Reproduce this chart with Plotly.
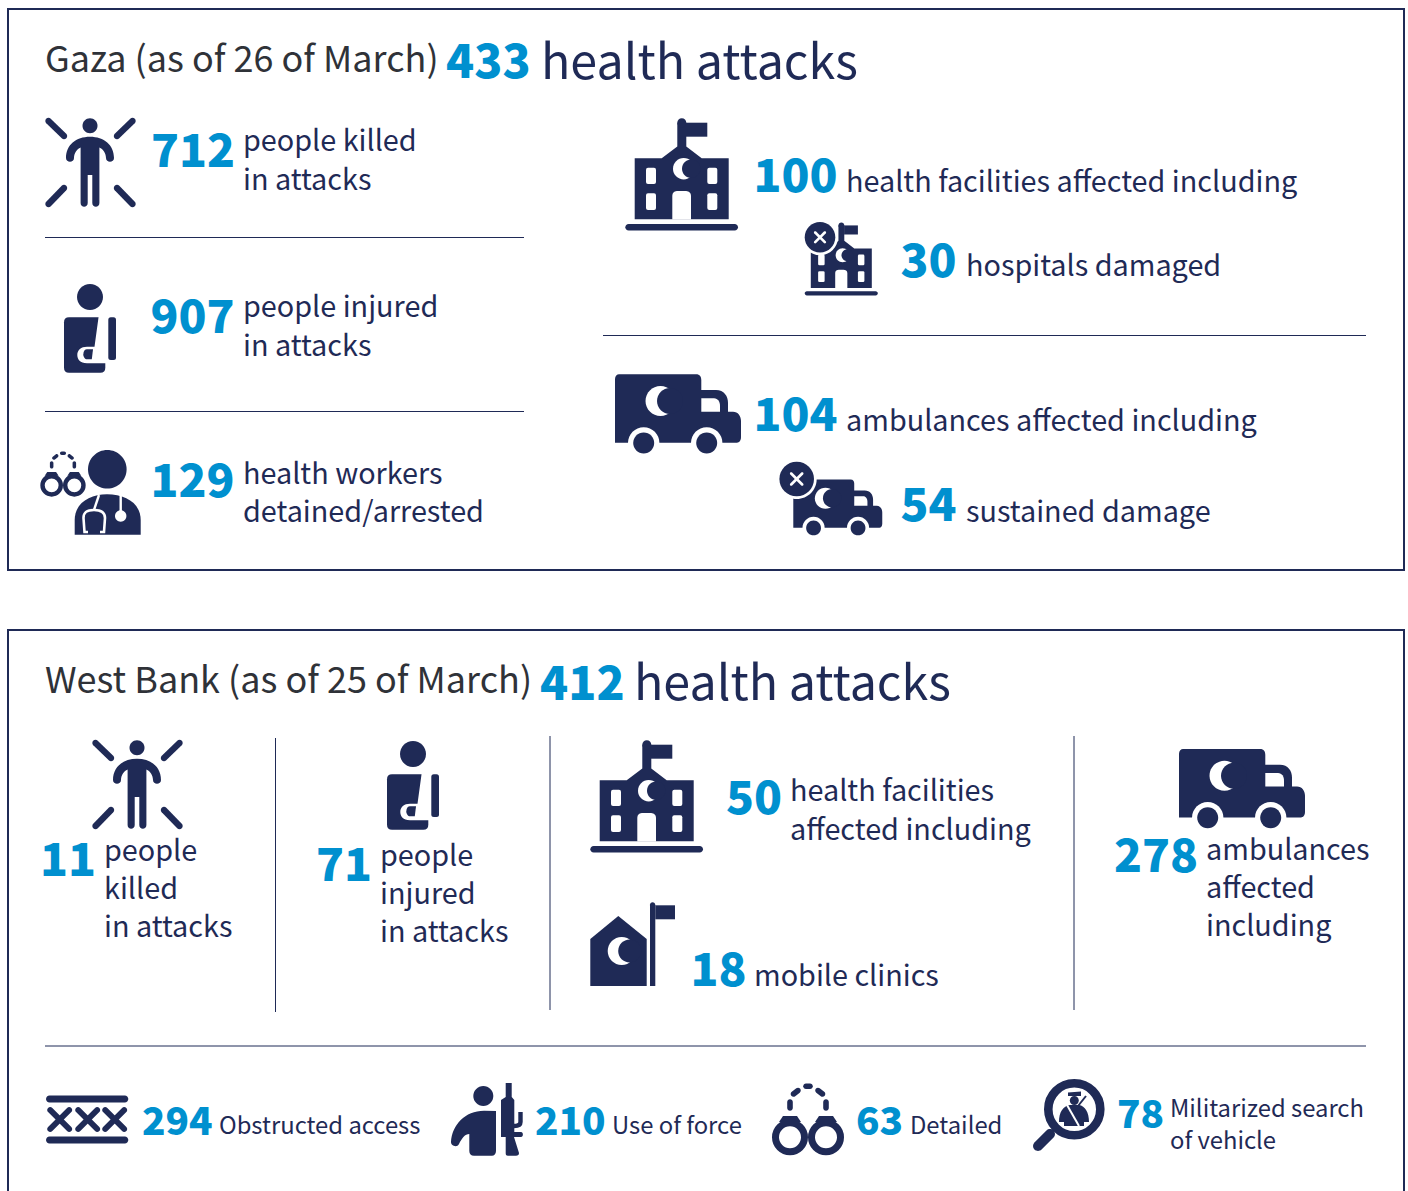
import re
import math
import plotly.graph_objects as go

# ---------- chart content ----------
gaza_title = "Gaza (as of 26 of March)"
gaza_total = "433"
bank_title = "West Bank (as of 25 of March)"
bank_total = "412"
total_suffix = "health attacks"

gaza_numbers = ["712", "907", "129", "100", "30", "104", "54"]
gaza_labels = [["people killed", "in attacks"], ["people injured", "in attacks"],
               ["health workers", "detained/arrested"],
               ["health facilities affected including"], ["hospitals damaged"],
               ["ambulances affected including"], ["sustained damage"]]
bank_numbers = ["11", "71", "50", "18", "278"]
bank_labels = [["people", "killed", "in attacks"], ["people", "injured", "in attacks"],
               ["health facilities", "affected including"], ["mobile clinics"],
               ["ambulances", "affected", "including"]]
bank_small_numbers = ["294", "210", "63", "78"]
bank_small_labels = [["Obstructed access"], ["Use of force"], ["Detailed"],
                     ["Militarized search", "of vehicle"]]

# ---------- layout of the texts (pixels) ----------
gaza_num_pos = [(151, 155.5), (150.5, 321.5), (150.5, 485.5), (753.5, 180.5), (900.5, 265.5), (753.5, 419.5), (900.5, 509.5)]
gaza_lab_pos = [(242.5, [138, 177]), (242.5, [304, 343]), (242.5, [471, 509]),
                (845.5, [179]), (965.5, [263]), (845.5, [418]), (965.5, [509])]
bank_num_pos = [(40, 864.5), (316, 869.5), (726, 802.5), (690.5, 974.5), (1114, 860.5)]
bank_lab_pos = [(103.5, [848, 886, 924]), (379.5, [853, 891, 929]), (790, [788, 827]),
                (754, [973]), (1206, [847, 885, 923])]
small_num_pos = [(142, 1125), (535, 1125), (856, 1125), (1117, 1118)]
small_lab_pos = [(218.5, [1123]), (612, [1123]), (909.5, [1123]), (1170, [1106, 1138])]

NAVY = "#1f2a56"
BLUE = "#0090cf"
GREY = "#2f3238"
WHITE = "#ffffff"
FONT = "Noto Sans CJK SC"
W, H = 1408, 1191

shapes = []


def tf(d, ox=0.0, oy=0.0, s=1.0, ax=0.0, ay=0.0):
    """Scale a path about (ax, ay), then place it at (ox, oy)."""
    out, is_x = [], True
    for tok in re.findall(r"[MLCQZ]|-?[\d.]+", d):
        if tok in "MLCQZ":
            out.append(tok)
            is_x = True
        else:
            v = float(tok)
            v = ox + s * (v - ax) if is_x else oy + s * (v - ay)
            out.append(f"{v:.2f}")
            is_x = not is_x
    return " ".join(out)


def circ(cx, cy, r):
    k = 0.5523 * r
    return (f"M {cx-r} {cy} C {cx-r} {cy-k} {cx-k} {cy-r} {cx} {cy-r} "
            f"C {cx+k} {cy-r} {cx+r} {cy-k} {cx+r} {cy} "
            f"C {cx+r} {cy+k} {cx+k} {cy+r} {cx} {cy+r} "
            f"C {cx-k} {cy+r} {cx-r} {cy+k} {cx-r} {cy} Z")


def capsule(x0, y0, x1, y1, r):
    a = math.atan2(y1 - y0, x1 - x0)
    nx, ny = -math.sin(a) * r, math.cos(a) * r
    ux, uy = math.cos(a) * r, math.sin(a) * r
    return (f"M {x0+nx} {y0+ny} L {x1+nx} {y1+ny} "
            f"C {x1+nx+ux*.55} {y1+ny+uy*.55} {x1+ux+nx*.55} {y1+uy+ny*.55} {x1+ux} {y1+uy} "
            f"C {x1+ux-nx*.55} {y1+uy-ny*.55} {x1-nx+ux*.55} {y1-ny+uy*.55} {x1-nx} {y1-ny} "
            f"L {x0-nx} {y0-ny} "
            f"C {x0-nx-ux*.55} {y0-ny-uy*.55} {x0-ux-nx*.55} {y0-uy-ny*.55} {x0-ux} {y0-uy} "
            f"C {x0-ux+nx*.55} {y0-uy+ny*.55} {x0+nx-ux*.55} {y0+ny-uy*.55} {x0+nx} {y0+ny} Z")


def rrect(x0, y0, x1, y1, r):
    return (f"M {x0+r} {y0} L {x1-r} {y0} Q {x1} {y0} {x1} {y0+r} L {x1} {y1-r} "
            f"Q {x1} {y1} {x1-r} {y1} L {x0+r} {y1} Q {x0} {y1} {x0} {y1-r} "
            f"L {x0} {y0+r} Q {x0} {y0} {x0+r} {y0} Z")


def draw(parts, ox=0.0, oy=0.0, s=1.0, ax=0.0, ay=0.0):
    for part in parts:
        d, fill, *stroke = part
        line = dict(width=0)
        if stroke:
            line = dict(color=stroke[0], width=stroke[1] * s)
        shapes.append(dict(type="path", xref="x", yref="y", layer="above",
                           path=tf(d, ox, oy, s, ax, ay),
                           fillcolor=fill if fill else "rgba(0,0,0,0)", line=line))


def crescent(cx, cy, r, cut_dx, cut_r):
    return [(circ(cx, cy, r), WHITE), (circ(cx + cut_dx, cy, cut_r), NAVY)]


PERSON = [
    (circ(90, 125.7, 7.5), NAVY),
    (capsule(48.5, 121, 64, 136, 3.2), NAVY), (capsule(132.5, 121, 117, 136, 3.2), NAVY),
    (capsule(48.5, 204, 64, 188, 3.2), NAVY), (capsule(132.5, 204, 117, 188, 3.2), NAVY),
    ("M 66 158 C 66 145 76 136.7 90 136.7 C 104 136.7 114 145 114 158 "
     "C 114 163 106 163 106 158 C 106 153 103 149 99.4 147.5 L 99.4 203 "
     "C 99.4 208 92.3 208 92.3 203 L 92.3 175 L 87.7 175 L 87.7 203 "
     "C 87.7 208 80.6 208 80.6 203 L 80.6 147.5 C 77 149 74 153 74 158 C 74 163 66 163 66 158 Z", NAVY),
]

INJURED = [
    (circ(90, 297, 13), NAVY),
    (rrect(64, 317.3, 105.3, 372.7, 5), NAVY),
    ("M 98.7 316 L 110 316 L 110 363.3 L 87 363.3 C 80 363.3 77.3 359 77.3 355 "
     "C 77.3 350 81 346.7 87 346.7 L 94.5 346.7 Z", WHITE),
    ("M 93 349.3 L 91.8 359.3 L 87 359.3 C 85 359.3 83.3 357 83.3 354.5 "
     "C 83.3 351 85 349.3 87 349.3 Z", NAVY),
    (rrect(108.3, 317.3, 116, 360, 2.5), NAVY),
]

DOCTOR = [
    (circ(107.3, 469.3, 19.3), NAVY),
    ("M 74.7 534.7 L 74.7 520 C 74.7 503 90 494.3 107 494.3 C 125 494.3 140.7 503 140.7 520 L 140.7 534.7 Z", NAVY),
    ("M 120.7 494 L 120.7 512", None, WHITE, 2.4),
    (circ(120.7, 516, 5.7), WHITE),
    ("M 99 495 L 94 510", None, WHITE, 2.4),
    ("M 88 532 L 84.5 532 L 83.5 518 C 83.5 512 87 510 94 510 C 101 510 105 512 105 518 L 104 532 L 100 532", None, WHITE, 2.6),
]

CUFFS = [
    (circ(790, 1137.3, 14.5), None, NAVY, 7), (circ(826, 1137.3, 14.5), None, NAVY, 7),
    ("M 783 1116 L 797 1116 L 801 1122 L 779 1122 Z", NAVY),
    ("M 819 1116 L 833 1116 L 837 1122 L 815 1122 Z", NAVY),
    (capsule(790, 1102, 790, 1108, 2.8), NAVY), (capsule(826, 1102, 826, 1108, 2.8), NAVY),
    (capsule(793.5, 1094, 798, 1090.5, 2.8), NAVY), (capsule(822.5, 1094, 818, 1090.5, 2.8), NAVY),
    (capsule(806, 1086.3, 810, 1086.3, 2.8), NAVY),
]

HOSPITAL = [
    ("M 634.7 158.3 L 661.7 158.3 L 677.3 146.5 L 677.3 122.7 L 686.3 122.7 L 686.3 146.5 L 701.7 158.3 "
     "L 728.7 158.3 L 728.7 219.3 L 634.7 219.3 Z", NAVY),
    (circ(681.8, 122.8, 4.5), NAVY),
    ("M 686 122.7 L 707.3 122.7 L 707.3 136.7 L 686 136.7 Z", NAVY),
    ("M 672.3 219.5 L 672.3 196 C 672.3 192 675 191 678 191 L 685 191 C 688 191 691 192 691 196 L 691 219.5 Z", WHITE),
    (rrect(646, 167.7, 656, 184, 2), WHITE), (rrect(646, 193.3, 656, 210, 2), WHITE),
    (rrect(707.3, 167.7, 717.3, 184, 2), WHITE), (rrect(707.3, 193.3, 717.3, 210, 2), WHITE),
    *crescent(683.7, 168.7, 10.7, 7.5, 9.2),
    (capsule(628.6, 227.3, 734.7, 227.3, 3.3), NAVY),
]

TRUCK = [
    ("M 619 374.3 L 696 374.3 C 700 374.3 701.3 377 701.3 380 L 701.3 390 L 716 390 "
     "C 724 390 728 396 728 403 L 728 411.7 L 733 411.7 C 738 411.7 741 416 741 421 "
     "L 741 437 C 741 441 739 442.7 737 442.7 L 615 442.7 L 615 379 C 615 376 617 374.3 619 374.3 Z", NAVY),
    ("M 701.3 398.3 L 714 398.3 C 718 398.3 720 402 720 406 L 720 411.7 L 701.3 411.7 Z", WHITE),
    (circ(643.7, 443, 15.7), WHITE), (circ(643.7, 443, 10.5), NAVY),
    (circ(706.7, 443, 15.7), WHITE), (circ(706.7, 443, 10.5), NAVY),
    *crescent(660.5, 401, 15, 9.5, 13),
]


def badge(cx, cy, r_white, r_navy, arm):
    return [(circ(cx, cy, r_white), WHITE), (circ(cx, cy, r_navy), NAVY),
            (capsule(cx - arm, cy - arm, cx + arm, cy + arm, 1.3), WHITE),
            (capsule(cx - arm, cy + arm, cx + arm, cy - arm, 1.3), WHITE)]


CLINIC = [
    ("M 590.3 939 L 618.3 916 L 646.7 939 L 646.7 986 L 590.3 986 Z", NAVY),
    *crescent(621.7, 951, 14, 8, 11.5),
    ("M 650 905 L 650 986 L 655.3 986 L 655.3 905 Z", NAVY),
    (circ(652.6, 905, 2.7), NAVY),
    ("M 655.3 905.3 L 675 905.3 L 675 919.3 L 655.3 919.3 Z", NAVY),
]

BLOCKED = [
    (capsule(49.5, 1099, 124.8, 1099, 3.5), NAVY), (capsule(49.5, 1140, 124.8, 1140, 3.5), NAVY),
]
for cx in (59.7, 87.7, 114.7):
    BLOCKED += [(capsule(cx - 9.5, 1110, cx + 9.5, 1129, 3), NAVY),
                (capsule(cx - 9.5, 1129, cx + 9.5, 1110, 3), NAVY)]

SOLDIER = [
    (circ(483.3, 1096, 10), NAVY),
    ("M 496 1111 L 496 1151 C 496 1154 494 1155.7 492 1155.7 L 474 1155.7 C 471 1155.7 469.3 1154 469.3 1151 "
     "L 469.3 1134 C 465 1134 462 1138 459 1144 C 457 1148 451 1146 451 1142 "
     "C 452 1125 465 1110.7 484 1110.7 Z", NAVY),
    ("M 505.7 1083 L 511.7 1083 L 511.7 1097 L 514.3 1100 L 514.3 1132 L 521 1132 C 523.5 1132 523.5 1137 521 1137 L 514 1137 "
     "L 519 1153 C 519 1155 518 1155.7 516 1155.7 L 508 1155.7 C 506 1155.7 505.7 1155 505.7 1153 "
     "L 505.7 1137 L 501 1137 L 501 1100 L 505.7 1097 Z", NAVY),
    ("M 520.5 1112 L 520.5 1122 C 520.5 1125 518 1126 514 1126", None, NAVY, 4.4),
]

SEARCH = [
    (circ(1074.3, 1109.3, 26), None, NAVY, 8.6),
    (capsule(1038, 1146, 1050, 1134, 5), NAVY),
    (circ(1074.3, 1100.5, 4.5), NAVY),
    ("M 1068 1092.5 L 1081 1091.5 L 1081 1096 L 1068 1096 Z", NAVY),
    ("M 1059 1122 C 1059 1112 1063 1106 1070 1105 L 1079 1105 C 1085 1106 1089 1112 1089 1122 "
     "L 1084 1122 L 1084 1126 L 1064 1126 L 1064 1122 Z", NAVY),
    ("M 1067 1105 L 1079 1126", None, WHITE, 2),
    ("M 1078 1106 L 1086 1096", None, NAVY, 2),
]

# ---------- place the icons ----------
draw(PERSON)
draw(PERSON, 47, 622)
draw(INJURED)
draw(INJURED, 323, 457)
draw(DOCTOR)
draw(CUFFS, 63, 485.3, 0.63, 808, 1137.3)
draw(CUFFS)
draw(HOSPITAL)
draw(HOSPITAL, 841.3, 293.3, 0.649, 681.7, 227.3)
draw(badge(820, 237.3, 18, 15.3, 4.8))
draw(HOSPITAL, -35, 622)
draw(TRUCK)
draw(TRUCK, 793.3, 527.7, 0.706, 615, 442.7)
draw(badge(796.7, 479, 20, 17.3, 5.5))
draw(TRUCK, 564, 374.7)
draw(CLINIC)
draw(BLOCKED)
draw(SOLDIER)
draw(SEARCH)

# ---------- frames and dividers ----------
for x0, y0, x1, y1 in [(8, 9, 1404, 570), (8, 630, 1404, 1230)]:
    shapes.append(dict(type="rect", xref="x", yref="y", x0=x0, y0=y0, x1=x1, y1=y1,
                       layer="below", line=dict(color=NAVY, width=2), fillcolor="rgba(0,0,0,0)"))
for x0, y0, x1, y1 in [(45, 237.5, 524, 237.5), (45, 411.5, 524, 411.5), (603, 335.5, 1366, 335.5),
                       (45, 1046, 1366, 1046), (275.5, 738, 275.5, 1012), (550, 736, 550, 1010),
                       (1074, 736, 1074, 1010)]:
    shapes.append(dict(type="line", xref="x", yref="y", x0=x0, y0=y0, x1=x1, y1=y1,
                       layer="below", line=dict(color=NAVY, width=1)))

# ---------- texts ----------
annotations = []


def label(x, y, text, size, color=NAVY, weight=400):
    annotations.append(dict(x=x, y=y, xref="x", yref="y", text=text, showarrow=False,
                            xanchor="left", yanchor="middle", borderpad=0, borderwidth=0,
                            font=dict(family=FONT, size=size, color=color, weight=weight)))


TITLE_SIZE = 36
SUFFIX_SIZE = 48.4
LABEL_SIZE = 28.8
SMALL_SIZE = 23.8
NUM_SIZE = 46
SMALL_NUM = 38.7
TOTAL_SIZE = 46.3
NUM_WEIGHT = 900

label(44.5, 56, gaza_title, TITLE_SIZE, GREY)
label(445.5, 57.5, gaza_total, TOTAL_SIZE, BLUE, NUM_WEIGHT)
label(541, 57.5, total_suffix, SUFFIX_SIZE)
label(44.5, 677, bank_title, TITLE_SIZE, GREY)
label(539.5, 679, bank_total, TOTAL_SIZE, BLUE, NUM_WEIGHT)
label(634, 679, total_suffix, SUFFIX_SIZE)

for lines, (x, ys) in zip(gaza_labels + bank_labels, gaza_lab_pos + bank_lab_pos):
    for txt, y in zip(lines, ys):
        label(x, y, txt, LABEL_SIZE)
for lines, (x, ys) in zip(bank_small_labels, small_lab_pos):
    for txt, y in zip(lines, ys):
        label(x, y, txt, SMALL_SIZE)

big = gaza_numbers + bank_numbers
big_pos = gaza_num_pos + bank_num_pos
traces = [
    go.Scatter(x=[p[0] for p in big_pos], y=[p[1] for p in big_pos], text=big, mode="text",
               textposition="middle right", hoverinfo="skip", cliponaxis=False, showlegend=False,
               textfont=dict(family=FONT, size=NUM_SIZE, color=BLUE, weight=NUM_WEIGHT)),
    go.Scatter(x=[p[0] for p in small_num_pos], y=[p[1] for p in small_num_pos], text=bank_small_numbers,
               mode="text", textposition="middle right", hoverinfo="skip", cliponaxis=False, showlegend=False,
               textfont=dict(family=FONT, size=SMALL_NUM, color=BLUE, weight=NUM_WEIGHT)),
]

fig = go.Figure(traces)
fig.update_layout(
    width=W, height=H, autosize=False, margin=dict(l=0, r=0, t=0, b=0),
    paper_bgcolor=WHITE, plot_bgcolor=WHITE, showlegend=False,
    xaxis=dict(range=[0, W], visible=False, fixedrange=True),
    yaxis=dict(range=[H, 0], visible=False, fixedrange=True),
    shapes=shapes, annotations=annotations,
)
fig.write_html("out.html", config=dict(displayModeBar=False),
               post_script="document.body.style.margin='0';document.body.style.overflow='hidden';")
